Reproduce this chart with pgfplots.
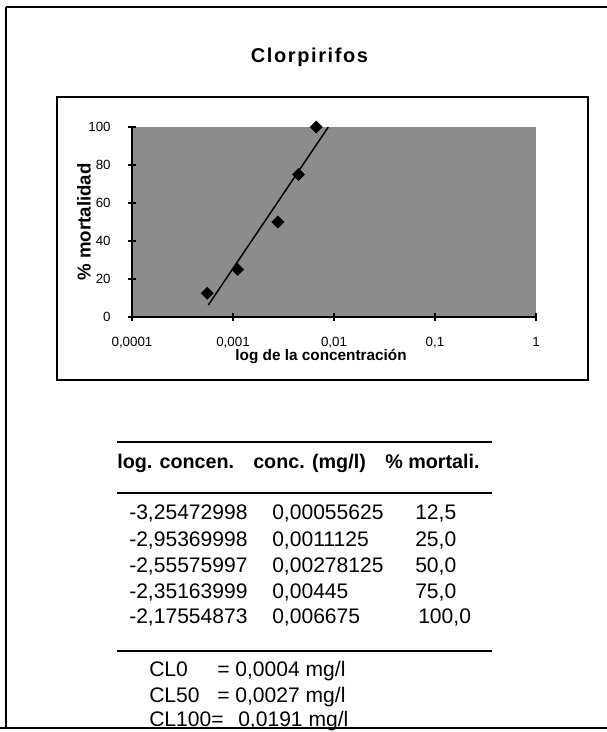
\documentclass[border=0pt]{standalone}
\usepackage{fontspec}
\setmainfont{Liberation Sans}
\usepackage{pgfplots}
\pgfplotsset{compat=1.18}

\begin{document}
\begin{tikzpicture}
  % page = 607 x 732 px, 1 px = 0.75pt
  \useasboundingbox (0,0) rectangle (455.25pt,-549pt);

  \begin{scope}[x=0.75pt, y=-0.75pt]
    % outer frame (no right border in the scan)
    \draw[line width=1.5pt] (6,7) -- (607,7);
    \draw[line width=1.5pt] (6,7) -- (6,728);
    \draw[line width=1.5pt] (0,728) -- (607,728);
    % chart box
    \draw[line width=1.8pt] (57,97) rectangle (588,380);
    \node[anchor=base, inner sep=0,
          font={\bfseries\fontsize{15}{17}\selectfont\addfontfeature{LetterSpace=8}}]
      at (309.5,62) {Clorpirifos};

    % --- table below the chart
    \draw[line width=1.5pt] (117,442) -- (492,442);
    \draw[line width=1.5pt] (117,493) -- (492,493);
    \draw[line width=1.5pt] (117,651) -- (492,651);
    \begin{scope}[every node/.style={anchor=base west, inner sep=0}]
      \begin{scope}[font={\bfseries\fontsize{14.8}{17}\selectfont}]
        \node at (117,468) {log. concen.};
        \node at (253,468) {conc. (mg/l)};
        \node at (385,468) {\% mortali.};
      \end{scope}
      \begin{scope}[font={\fontsize{15.8}{18}\selectfont}]
        \node at (129,519) {-3,25472998}; \node at (272,519) {0,00055625}; \node at (415,519) {12,5};
        \node at (129,546) {-2,95369998}; \node at (272,546) {0,0011125};  \node at (415,546) {25,0};
        \node at (129,572) {-2,55575997}; \node at (272,572) {0,00278125}; \node at (415,572) {50,0};
        \node at (129,598) {-2,35163999}; \node at (272,598) {0,00445};    \node at (415,598) {75,0};
        \node at (129,623) {-2,17554873}; \node at (272,623) {0,006675};   \node at (418,623) {100,0};
        \node at (149,676) {CL0};    \node at (217,676) {= 0,0004 mg/l};
        \node at (149,702) {CL50};   \node at (217,702) {= 0,0027 mg/l};
        \node at (149,726) {CL100=}; \node at (238,726) {0,0191 mg/l};
      \end{scope}
    \end{scope}
  \end{scope}

  \begin{axis}[
      at={(99pt,-237.75pt)}, anchor=south west,
      scale only axis, width=303pt, height=142.5pt,
      xmode=log, xmin=0.0001, xmax=1, ymin=0, ymax=100,
      axis x line*=bottom, axis y line*=left,
      axis line style={line width=1.5pt, black},
      axis background/.style={fill=black!45},
      xtick={0.0001,0.001,0.01,0.1,1},
      xticklabels={{0,0001},{0,001},{0,01},{0,1},{1}},
      xminorticks=false,
      ytick={0,20,40,60,80,100},
      yticklabels={0,20,40,60,80,100},
      tick align=center, major tick length=6pt,
      tick style={line width=1.2pt, black},
      ticklabel style={font=\fontsize{10}{12}\selectfont},
      xticklabel style={yshift=-8.5pt},
      yticklabel style={xshift=-9.5pt},
      xlabel={log de la concentración},
      ylabel={\% mortalidad},
      xlabel style={at={([yshift=-32.25pt]axis description cs:0.468,0)},
                    anchor=base, inner sep=0,
                    font=\bfseries\fontsize{11.5}{13}\selectfont},
      ylabel style={at={([xshift=-31pt]axis description cs:0,0.5)},
                    anchor=base, inner sep=0,
                    font=\bfseries\fontsize{14}{16}\selectfont},
      clip=false,
    ]
    % fitted line (% mortality against log concentration)
    \addplot[black, line width=1.1pt, mark=none]
      coordinates {(0.00057,6.3) (0.00879,100)};
    % measured points
    \addplot[only marks, mark=square*, mark size=3.2pt,
             mark options={rotate=45, fill=black, draw=black}]
      coordinates {(0.00055625,12.5) (0.0011125,25) (0.00278125,50)
                   (0.00445,75) (0.006675,100)};
  \end{axis}
\end{tikzpicture}
\end{document}
